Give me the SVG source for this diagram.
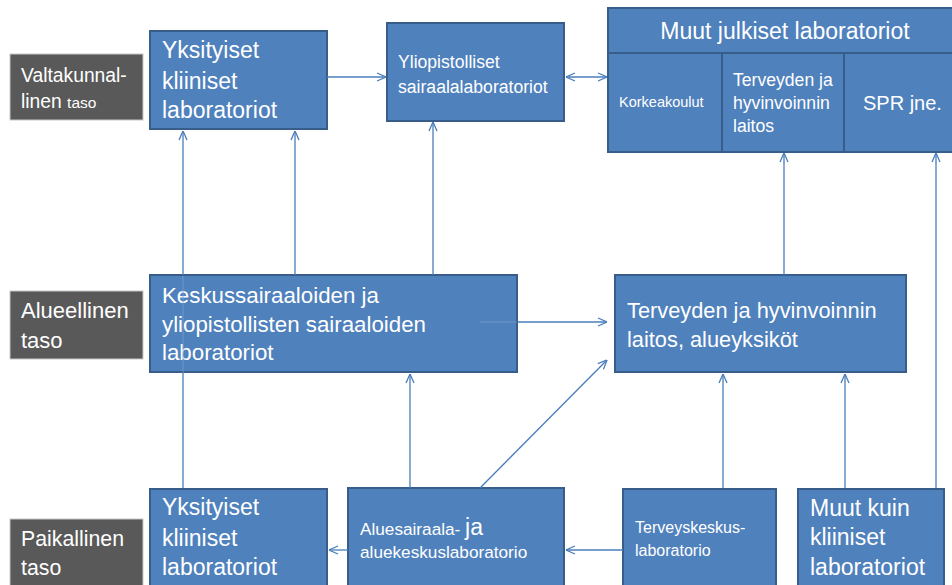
<svg xmlns="http://www.w3.org/2000/svg" width="952" height="585" viewBox="0 0 952 585">
<style>
.box{fill:#4F81BD;stroke:#385D8A;stroke-width:2}
.lvl{fill:#595959;stroke:#C8C8C8;stroke-width:1}
text{font-family:"Liberation Sans",Arial,sans-serif;fill:#FFFFFF}
.c{fill:none;stroke:#4A7EBB;stroke-width:1.3}
.f{fill:none;stroke:#7FA3D1;stroke-width:1.2;stroke-opacity:0.6}
</style>
<defs>
<marker id="ah" viewBox="0 0 10 10" refX="10" refY="5" markerWidth="10" markerHeight="10" markerUnits="userSpaceOnUse" orient="auto-start-reverse">
<path d="M1,1 L10,5 L1,9" fill="none" stroke="#4A7EBB" stroke-width="1.3"/>
</marker>
</defs>
<rect width="952" height="585" fill="#FFFFFF"/>

<g id="lvl-valtakunnallinen">
<rect class="lvl" x="10" y="54" width="133" height="66"/>
<text x="21" y="82" font-size="19.3">Valtakunnal-</text>
<text x="21" y="108" font-size="19.3">linen <tspan font-size="15.5">taso</tspan></text>
</g>
<g id="lvl-alueellinen">
<rect class="lvl" x="10" y="291" width="133" height="68"/>
<text x="21" y="318" font-size="22">Alueellinen</text>
<text x="21" y="348" font-size="22">taso</text>
</g>
<g id="lvl-paikallinen">
<rect class="lvl" x="10" y="519" width="133" height="70"/>
<text x="21" y="546" font-size="21.3">Paikallinen</text>
<text x="21" y="575" font-size="21.3">taso</text>
</g>

<g id="yksityiset-top">
<rect class="box" x="150" y="31" width="177" height="98"/>
<text x="162" y="58" font-size="23">Yksityiset</text>
<text x="162" y="89" font-size="23">kliiniset</text>
<text x="162" y="118" font-size="23">laboratoriot</text>
</g>
<g id="yliopistolliset">
<rect class="box" x="387" y="23" width="177" height="98"/>
<text x="398" y="68" font-size="17.6">Yliopistolliset</text>
<text x="398" y="93" font-size="17.6">sairaalalaboratoriot</text>
</g>
<g id="muut-julkiset">
<rect class="box" x="608" y="8" width="350" height="144"/>
<line x1="608" y1="53" x2="958" y2="53" stroke="#385D8A" stroke-width="2"/>
<line x1="722" y1="53" x2="722" y2="152" stroke="#385D8A" stroke-width="2"/>
<line x1="844" y1="53" x2="844" y2="152" stroke="#385D8A" stroke-width="2"/>
<text x="785" y="39" font-size="23" text-anchor="middle">Muut julkiset laboratoriot</text>
<text x="619" y="107" font-size="14.5">Korkeakoulut</text>
<text x="733" y="86" font-size="17.6">Terveyden ja</text>
<text x="733" y="109" font-size="17.6">hyvinvoinnin</text>
<text x="733" y="132" font-size="17.6">laitos</text>
<text x="863" y="110" font-size="20">SPR jne.</text>
</g>
<g id="keskussairaalat">
<rect class="box" x="150" y="275" width="367" height="97"/>
<text x="162" y="303" font-size="22.3">Keskussairaaloiden ja</text>
<text x="162" y="332" font-size="22.3">yliopistollisten sairaaloiden</text>
<text x="162" y="360" font-size="22.3">laboratoriot</text>
</g>
<g id="thl-alueyksikot">
<rect class="box" x="615" y="275" width="291" height="97"/>
<text x="627" y="318" font-size="21.8">Terveyden ja hyvinvoinnin</text>
<text x="627" y="347" font-size="21.8">laitos, alueyksiköt</text>
</g>
<g id="yksityiset-bottom">
<rect class="box" x="150" y="489" width="177" height="104"/>
<text x="162" y="515" font-size="23">Yksityiset</text>
<text x="162" y="546" font-size="23">kliiniset</text>
<text x="162" y="575" font-size="23">laboratoriot</text>
</g>
<g id="aluesairaala">
<rect class="box" x="348" y="488" width="216" height="105"/>
<text x="360" y="535" font-size="17.2">Aluesairaala- <tspan font-size="23">ja</tspan></text>
<text x="360" y="558" font-size="17.2">aluekeskuslaboratorio</text>
</g>
<g id="terveyskeskus">
<rect class="box" x="623" y="489" width="153" height="104"/>
<text x="635" y="533" font-size="16">Terveyskeskus-</text>
<text x="635" y="556" font-size="16">laboratorio</text>
</g>
<g id="muut-kuin-kliiniset">
<rect class="box" x="798" y="489" width="146" height="104"/>
<text x="810" y="516" font-size="23">Muut kuin</text>
<text x="810" y="545" font-size="23">kliiniset</text>
<text x="810" y="575" font-size="23">laboratoriot</text>
</g>

<g id="connectors">
<path class="c" d="M327,77 L386,77" marker-end="url(#ah)"/>
<path class="c" d="M566,77 L607,77" marker-start="url(#ah)" marker-end="url(#ah)"/>
<path class="c" d="M183,488 L183,373"/>
<path class="f" d="M183,373 L183,276"/>
<path class="c" d="M183,275 L183,131" marker-end="url(#ah)"/>
<path class="c" d="M295,275 L295,131" marker-end="url(#ah)"/>
<path class="c" d="M433,275 L433,122" marker-end="url(#ah)"/>
<path class="f" d="M480,322 L517,322"/>
<path class="c" d="M518,322 L607,322" marker-end="url(#ah)"/>
<path class="c" d="M480,488 L607,360" marker-end="url(#ah)"/>
<path class="c" d="M410,488 L410,374" marker-end="url(#ah)"/>
<path class="c" d="M623,550 L566,550" marker-end="url(#ah)"/>
<path class="c" d="M348,550 L329,550" marker-end="url(#ah)"/>
<path class="c" d="M723,488 L723,374" marker-end="url(#ah)"/>
<path class="c" d="M845,488 L845,374" marker-end="url(#ah)"/>
<path class="c" d="M936,488 L936,153" marker-end="url(#ah)"/>
<path class="c" d="M784,275 L784,153" marker-end="url(#ah)"/>
</g>
</svg>
